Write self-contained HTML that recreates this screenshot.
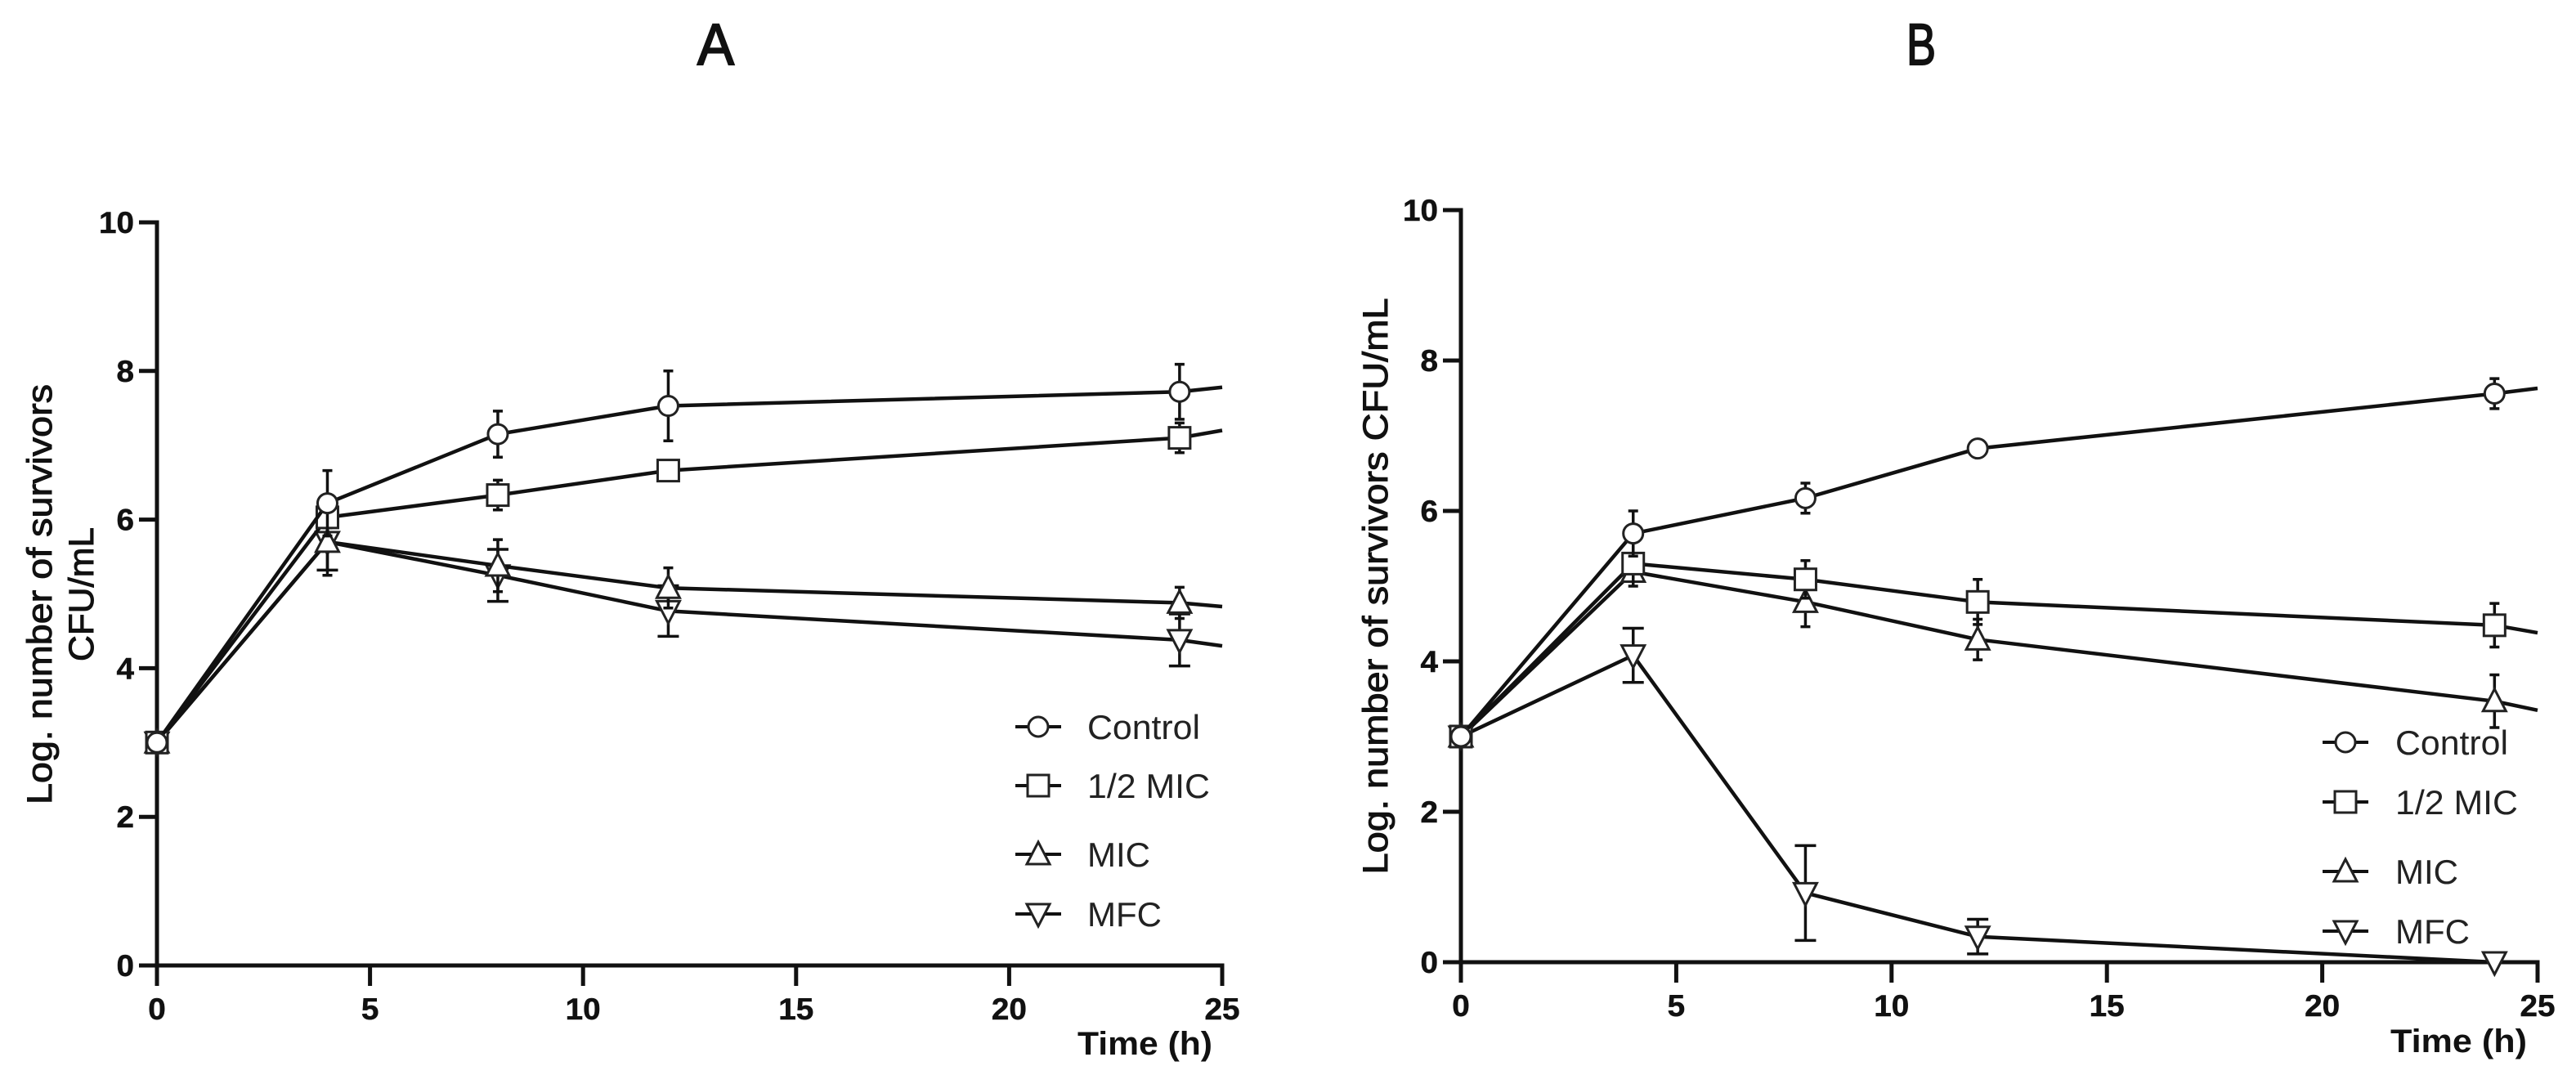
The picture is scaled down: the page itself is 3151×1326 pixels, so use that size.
<!DOCTYPE html>
<html>
<head>
<meta charset="utf-8">
<title>Time-kill curves</title>
<style>
html,body{margin:0;padding:0;background:#fff;}
svg{display:block;}
text{font-family:"Liberation Sans",sans-serif;fill:#111;}
.panel-title{font-size:71px;stroke:#111;stroke-width:2;}
.axis-title{font-size:43px;stroke:#111;stroke-width:1;}
.time-title{font-size:40px;font-weight:bold;}
.legend-text{font-size:42px;fill:#222;}
.tick{font-size:37px;font-weight:bold;stroke:#111;stroke-width:0.5;}
</style>
</head>
<body>
<svg id="figure" xmlns="http://www.w3.org/2000/svg" width="3151" height="1326" viewBox="0 0 3151 1326">
  <rect width="3151" height="1326" fill="#fff"/>
  <text class="panel-title" x="853" y="79" textLength="45" lengthAdjust="spacingAndGlyphs">A</text>
  <text class="panel-title" x="2332" y="79" textLength="36" lengthAdjust="spacingAndGlyphs">B</text>

  <g id="panel-a">
    <text class="axis-title" transform="translate(63,727) rotate(-90)" text-anchor="middle" textLength="514" lengthAdjust="spacingAndGlyphs">Log. number of survivors</text>
    <text class="axis-title" transform="translate(114,727) rotate(-90)" text-anchor="middle" textLength="164" lengthAdjust="spacingAndGlyphs">CFU/mL</text>
    <text class="time-title" x="1318" y="1290" textLength="165" lengthAdjust="spacingAndGlyphs">Time (h)</text>
    <text class="legend-text" x="1330" y="904" textLength="138" lengthAdjust="spacingAndGlyphs">Control</text>
    <text class="legend-text" x="1330" y="976" textLength="150" lengthAdjust="spacingAndGlyphs">1/2 MIC</text>
    <text class="legend-text" x="1330" y="1060" textLength="77" lengthAdjust="spacingAndGlyphs">MIC</text>
    <text class="legend-text" x="1330" y="1133" textLength="91" lengthAdjust="spacingAndGlyphs">MFC</text>
  </g>

  <g id="panel-b">
    <text class="axis-title" transform="translate(1697,717) rotate(-90)" text-anchor="middle" textLength="705" lengthAdjust="spacingAndGlyphs">Log. number of survivors CFU/mL</text>
    <text class="time-title" x="2924" y="1287" textLength="167" lengthAdjust="spacingAndGlyphs">Time (h)</text>
    <text class="legend-text" x="2930" y="923" textLength="138" lengthAdjust="spacingAndGlyphs">Control</text>
    <text class="legend-text" x="2930" y="996" textLength="150" lengthAdjust="spacingAndGlyphs">1/2 MIC</text>
    <text class="legend-text" x="2930" y="1081" textLength="77" lengthAdjust="spacingAndGlyphs">MIC</text>
    <text class="legend-text" x="2930" y="1154" textLength="91" lengthAdjust="spacingAndGlyphs">MFC</text>
  </g>
</svg>

<script>
// Shared axis data
const hours = [0, 4, 8, 12, 24, 25];
const xTickLabels = [0, 5, 10, 15, 20, 25];
const yTickLabels = [0, 2, 4, 6, 8, 10];

// Panel A values (last value is where the line ends at x = 25, no marker)
const controlA = [3, 6.22, 7.15, 7.53, 7.72, 7.78];
const halfMicA = [3, 6.03, 6.33, 6.66, 7.1, 7.2];
const micA = [3, 5.7, 5.38, 5.08, 4.88, 4.83];
const mfcA = [3, 5.7, 5.25, 4.77, 4.38, 4.3];
// Panel A error bars
const controlErrA = [0, 0.44, 0.31, 0.47, 0.37];
const halfMicErrA = [0, 0.14, 0.2, 0.08, 0.2];
const micErrA = [0, 0.45, 0.35, 0.27, 0.21];
const mfcErrA = [0, 0.38, 0.35, 0.34, 0.35];

// Panel B values
const controlB = [3, 5.7, 6.17, 6.83, 7.56, 7.63];
const halfMicB = [3, 5.3, 5.09, 4.79, 4.48, 4.38];
const micB = [3, 5.19, 4.79, 4.29, 3.47, 3.35];
const mfcB = [3, 4.08, 0.92, 0.34, 0, 0];
// Panel B error bars
const controlErrB = [0, 0.3, 0.2, 0.05, 0.2];
const halfMicErrB = [0, 0.3, 0.25, 0.3, 0.29];
const micErrB = [0, 0.1, 0.33, 0.27, 0.35];
const mfcErrB = [0, 0.36, 0.63, 0.23, 0];

const NS = 'http://www.w3.org/2000/svg';
const INK = '#111';

function make(parent, tag, attrs) {
  const el = document.createElementNS(NS, tag);
  for (const k in attrs) el.setAttribute(k, attrs[k]);
  parent.appendChild(el);
  return el;
}

function drawMarker(parent, kind, cx, cy, name) {
  const r = 13;
  const style = { fill: '#fff', stroke: '#222', 'stroke-width': 3 };
  let el;
  if (kind === 'circle') {
    el = make(parent, 'circle', Object.assign({ cx: cx, cy: cy, r: 12 }, style));
  } else if (kind === 'square') {
    el = make(parent, 'rect', Object.assign({ x: cx - r, y: cy - r, width: 2 * r, height: 2 * r }, style));
  } else if (kind === 'up') {
    el = make(parent, 'polygon', Object.assign({ points: [cx, cy - r - 2, cx + r + 1, cy + r - 1, cx - r - 1, cy + r - 1].join(' ') }, style));
  } else {
    el = make(parent, 'polygon', Object.assign({ points: [cx, cy + r + 2, cx + r + 1, cy - r + 1, cx - r - 1, cy - r + 1].join(' ') }, style));
  }
  
  
  return el;
}

function drawPanel(groupId, prefix, box, seriesList, legendX, legendRows) {
  const root = document.getElementById(groupId);
  const sx = function (v) { return box.x0 + (v / 25) * (box.x25 - box.x0); };
  const sy = function (v) { return box.y0 - (v / 10) * (box.y0 - box.y10); };

  // Axes
  const axes = make(root, 'g', {});
  
  

  const yAxis = make(axes, 'line', { x1: sx(0), x2: sx(0), y1: sy(10) - 2.5, y2: sy(0) + 25, stroke: INK, 'stroke-width': 5 });
  
  

  const xAxis = make(axes, 'line', { x1: sx(0) - 22, x2: sx(25) + 2.5, y1: sy(0), y2: sy(0), stroke: INK, 'stroke-width': 5 });
  
  

  yTickLabels.forEach(function (v) {
    const tick = make(axes, 'line', { x1: sx(0) - 22, x2: sx(0), y1: sy(v), y2: sy(v), stroke: INK, 'stroke-width': 5 });
    
    
    const label = make(axes, 'text', { class: 'tick', x: sx(0) - 28, y: sy(v) + 13, 'text-anchor': 'end', textLength: String(v).length * 21.5, lengthAdjust: 'spacingAndGlyphs' });
    label.textContent = v;
    
    
  });

  xTickLabels.forEach(function (v) {
    const tick = make(axes, 'line', { x1: sx(v), x2: sx(v), y1: sy(0), y2: sy(0) + 25, stroke: INK, 'stroke-width': 5 });
    
    
    const label = make(axes, 'text', { class: 'tick', x: sx(v), y: box.labelY, 'text-anchor': 'middle', textLength: String(v).length * 21.5, lengthAdjust: 'spacingAndGlyphs' });
    label.textContent = v;
    
    
  });

  // Series, drawn in reverse so Control sits on top
  seriesList.slice().reverse().forEach(function (s) {
    const g = make(root, 'g', {});
    
    
    const cap = s.name === 'mfc' ? 13 : 6;

    s.errors.forEach(function (e, i) {
      if (!e) return;
      const x = sx(hours[i]);
      const top = sy(s.values[i] + e);
      const bot = sy(s.values[i] - e);
      const bar = make(g, 'path', {
        d: 'M' + (x - cap) + ' ' + top + 'H' + (x + cap) + 'M' + x + ' ' + top + 'V' + bot + 'M' + (x - cap) + ' ' + bot + 'H' + (x + cap),
        fill: 'none', stroke: INK, 'stroke-width': 3.5
      });
      
      
    });

    const pts = s.values.map(function (v, i) { return sx(hours[i]) + ',' + sy(v); }).join(' ');
    const line = make(g, 'polyline', { points: pts, fill: 'none', stroke: INK, 'stroke-width': 4.5, 'stroke-linejoin': 'round' });
    
    

    s.errors.forEach(function (e, i) {
      drawMarker(g, s.marker, sx(hours[i]), sy(s.values[i]), prefix + '-point-' + s.name);
    });
  });

  // Legend keys
  seriesList.forEach(function (s, i) {
    const key = make(root, 'g', {});
    
    
    const rowY = legendRows[i];
    const keyLine = make(key, 'line', { x1: legendX - 28, x2: legendX + 28, y1: rowY, y2: rowY, stroke: INK, 'stroke-width': 4 });
    
    
    drawMarker(key, s.marker, legendX, rowY, prefix + '-legend-marker-' + s.name);
  });
}

drawPanel('panel-a', 'panel-a',
  { x0: 192, x25: 1495, y0: 1181, y10: 272, labelY: 1247 },
  [
    { name: 'control', marker: 'circle', values: controlA, errors: controlErrA },
    { name: 'half-mic', marker: 'square', values: halfMicA, errors: halfMicErrA },
    { name: 'mic', marker: 'up', values: micA, errors: micErrA },
    { name: 'mfc', marker: 'down', values: mfcA, errors: mfcErrA }
  ], 1270, [889, 961, 1045, 1118]);

drawPanel('panel-b', 'panel-b',
  { x0: 1787, x25: 3104, y0: 1177, y10: 257, labelY: 1243 },
  [
    { name: 'control', marker: 'circle', values: controlB, errors: controlErrB },
    { name: 'half-mic', marker: 'square', values: halfMicB, errors: halfMicErrB },
    { name: 'mic', marker: 'up', values: micB, errors: micErrB },
    { name: 'mfc', marker: 'down', values: mfcB, errors: mfcErrB }
  ], 2869, [908, 981, 1066, 1139]);
</script>
</body>
</html>
